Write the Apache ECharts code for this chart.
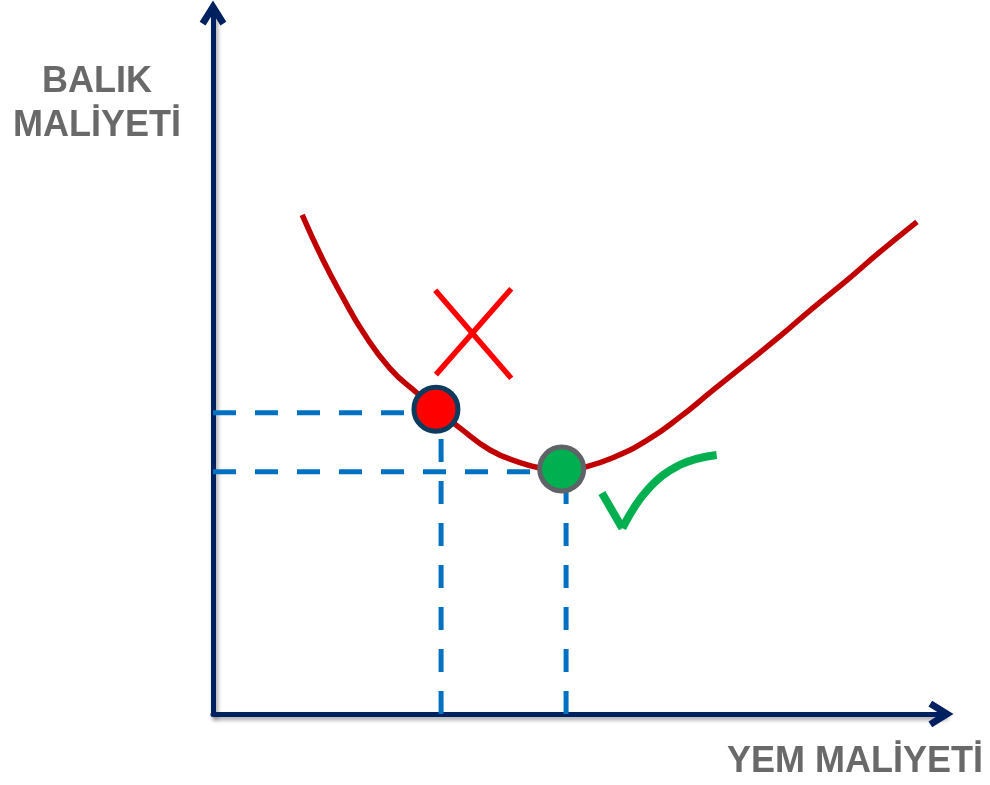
<!DOCTYPE html>
<html>
<head>
<meta charset="utf-8">
<title>Balık maliyeti - yem maliyeti</title>
<script src="https://cdn.jsdelivr.net/npm/echarts@6/dist/echarts.min.js"></script>
<style>
  html, body { margin: 0; padding: 0; background: #fff; }
  #chart { width: 990px; height: 785px; }
</style>
</head>
<body>
<div id="chart"></div>
<script>
// eğri (yem maliyeti -> balık maliyeti)
const curveX = [12.2, 15.0, 17.8, 20.5, 24.2, 27.9, 30.5, 33.8, 37.9, 42.0, 45.4, 47.9, 50.2, 54.7, 59.4, 63.9, 68.4, 73.1, 77.6, 82.1, 86.7, 91.2, 96.3];
const curveY = [70.9, 64.6, 59.1, 54.3, 49.1, 45.6, 43.3, 40.6, 37.5, 35.7, 34.8, 34.5, 34.9, 36.4, 38.9, 42.2, 46.0, 49.9, 53.7, 57.7, 61.6, 65.6, 69.9];

// işaretli noktalar: kötü (kırmızı) ve en iyi (yeşil)
const badPoint = [30.5, 43.3];
const goodPoint = [47.7, 34.8];

// kesikli yardımcı çizgiler
const guideX = [31.2, 48.3];
const guideY = [42.8, 34.4];

// çarpı işareti
const crossA = [[30.4, 60.2], [40.8, 47.7]];
const crossB = [[40.8, 60.4], [30.5, 48.2]];

// onay işareti
const tickStem = [[53.2, 31.4], [56.0, 26.4]];
const tickSweep = [[56.0, 26.4], [59.4, 31.8], [63.9, 35.4], [68.9, 36.8]];

const yTitle = 'BALIK\nMALİYETİ';
const xTitle = 'YEM MALİYETİ';

const navy = '#002060';
const blue = '#0070c0';
const chevron = 'path://M5,0 L10,8 L7.8,9.38 L5,4.9 L2.2,9.38 L0,8 Z';
const font = '"Liberation Sans", Arial, sans-serif';

function axisOf(extra) {
  return Object.assign({
    type: 'value',
    min: 0,
    max: 100,
    splitLine: { show: false },
    axisTick: { show: false },
    axisLabel: { show: false },
    axisLine: {
      show: true,
      symbol: ['none', chevron],
      symbolSize: [27, 25],
      symbolOffset: [0, -3],
      lineStyle: {
        color: navy,
        width: 5,
        shadowColor: 'rgba(0,0,0,0.35)',
        shadowBlur: 4,
        shadowOffsetX: 2,
        shadowOffsetY: 3
      }
    }
  }, extra);
}

function dashed(points) {
  return {
    type: 'line',
    data: points,
    symbol: 'none',
    silent: true,
    z: 1,
    lineStyle: { color: blue, width: 5, type: [23, 19] }
  };
}

function stroke(points, color, width, smooth) {
  return {
    type: 'line',
    data: points,
    symbol: 'none',
    silent: true,
    smooth: smooth || false,
    z: 3,
    lineStyle: { color: color, width: width, cap: 'butt' }
  };
}

const chart = echarts.init(document.getElementById('chart'));

const option = {
  animation: false,
  backgroundColor: '#fff',
  title: [
    {
      text: yTitle,
      left: 97,
      top: 60,
      padding: 0,
      textAlign: 'center',
      textStyle: { fontFamily: font, fontSize: 36, fontWeight: 'bold', color: '#696969', lineHeight: 44, align: 'center' }
    },
    {
      text: xTitle,
      right: 7,
      top: 744,
      padding: 0,
      textStyle: { fontFamily: font, fontSize: 36, fontWeight: 'bold', color: '#696969' }
    }
  ],
  grid: { left: 213, right: 46, top: 10, bottom: 71 },
  xAxis: axisOf({}),
  yAxis: axisOf({}),
  series: [
    // yatay kesikli çizgiler eksenden noktaya
    dashed([[0, guideY[0]], [guideX[0], guideY[0]]]),
    dashed([[0, guideY[1]], [guideX[1], guideY[1]]]),
    // dikey kesikli çizgiler eksenden yukarı
    dashed([[guideX[0], 0], [guideX[0], guideY[0]]]),
    dashed([[guideX[1], 0], [guideX[1], guideY[1]]]),
    // maliyet eğrisi
    {
      type: 'line',
      data: curveX.map((x, i) => [x, curveY[i]]),
      smooth: 0.5,
      symbol: 'none',
      silent: true,
      z: 2,
      lineStyle: { color: '#c00000', width: 5.5 }
    },
    stroke(crossA, '#ff0000', 5.5),
    stroke(crossB, '#ff0000', 5.5),
    stroke(tickStem, '#00b050', 8),
    stroke(tickSweep, '#00b050', 8, 0.4),
    // noktalar
    {
      type: 'scatter',
      data: [badPoint],
      symbolSize: 44,
      z: 5,
      itemStyle: { color: '#ff0000', borderColor: '#0d3b5e', borderWidth: 5, opacity: 1 }
    },
    {
      type: 'scatter',
      data: [goodPoint],
      symbolSize: 44,
      z: 5,
      itemStyle: { color: '#00b050', borderColor: '#5f6368', borderWidth: 5, opacity: 1 }
    }
  ]
};

chart.setOption(option);
</script>
</body>
</html>
